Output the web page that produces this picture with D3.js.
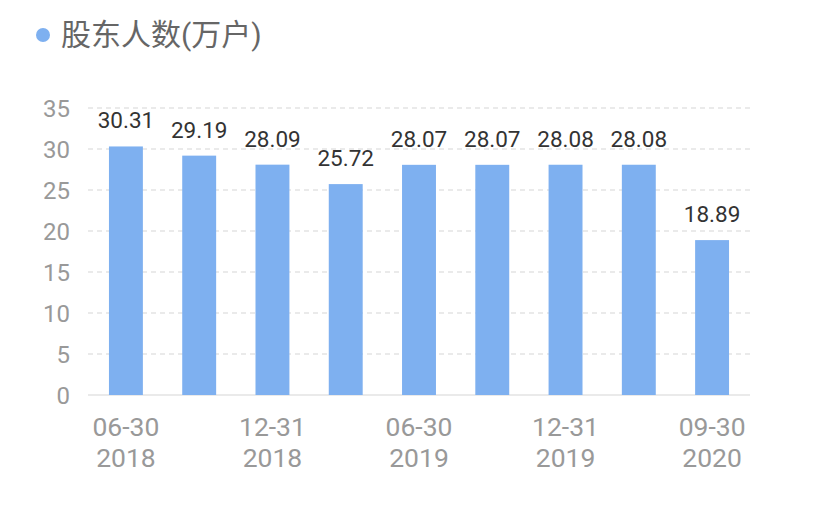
<!DOCTYPE html>
<html>
<head>
<meta charset="utf-8">
<script src="https://cdn.jsdelivr.net/npm/d3@7/dist/d3.min.js"></script>
<style>
  body { margin: 0; background: #fff; }
  svg text { font-family: Roboto, "Noto Sans CJK SC", sans-serif; }
</style>
</head>
<body>
<div id="chart"></div>
<script>
// data
const periods = ['06-30 2018', '09-30 2018', '12-31 2018', '03-31 2019', '06-30 2019',
                 '09-30 2019', '12-31 2019', '03-31 2020', '09-30 2020']
const holders = [30.31, 29.19, 28.09, 25.72, 28.07, 28.07, 28.08, 28.08, 18.89]
const yTicks = [0, 5, 10, 15, 20, 25, 30, 35]
const seriesName = '股东人数(万户)'

const width = 813, height = 511
const margin = {top: 108, right: 63, bottom: 116, left: 88}
const barColor = '#7eb0f0'

const svg = d3.select('#chart').append('svg')
    .attr('width', width)
    .attr('height', height)

// legend
svg.append('circle')
    .attr('cx', 43).attr('cy', 35).attr('r', 7)
    .attr('fill', barColor)
svg.append('text')
    .attr('x', 61).attr('y', 45)
    .attr('font-size', 30)
    .attr('fill', '#666')
    .text(seriesName)

const x = d3.scaleBand()
    .domain(periods)
    .range([margin.left, width - margin.right])
    .paddingInner(0.537)
    .paddingOuter(0.286)

const y = d3.scaleLinear()
    .domain([0, 35])
    .range([height - margin.bottom, margin.top])

// grid
svg.append('g')
    .selectAll('line')
    .data(yTicks.filter(d => d > 0))
    .join('line')
    .attr('x1', margin.left).attr('x2', width - margin.right)
    .attr('y1', d => y(d)).attr('y2', d => y(d))
    .attr('stroke', '#e3e3e3')
    .attr('stroke-width', 1.5)
    .attr('stroke-dasharray', '5,4')

svg.append('line')
    .attr('x1', margin.left).attr('x2', width - margin.right)
    .attr('y1', y(0)).attr('y2', y(0))
    .attr('stroke', '#e3e3e3')
    .attr('stroke-width', 1.5)

// y labels
svg.append('g')
    .selectAll('text')
    .data(yTicks)
    .join('text')
    .attr('x', 70)
    .attr('y', d => y(d) + 8.5)
    .attr('text-anchor', 'end')
    .attr('font-size', 24)
    .attr('fill', '#999')
    .text(d => d)

// bars
svg.append('g')
    .selectAll('rect')
    .data(holders)
    .join('rect')
    .attr('x', (d, i) => x(periods[i]))
    .attr('width', x.bandwidth())
    .attr('y', d => y(d))
    .attr('height', d => y(0) - y(d))
    .attr('fill', barColor)

// value labels
svg.append('g')
    .selectAll('text')
    .data(holders)
    .join('text')
    .attr('x', (d, i) => x(periods[i]) + x.bandwidth() / 2)
    .attr('y', d => y(d) - 18)
    .attr('text-anchor', 'middle')
    .attr('font-size', 22.5)
    .attr('fill', '#333')
    .text(d => d.toFixed(2))

// x labels, every other period
const xl = svg.append('g')
    .selectAll('text')
    .data(periods.filter((d, i) => i % 2 === 0))
    .join('text')
    .attr('text-anchor', 'middle')
    .attr('font-size', 26.5)
    .attr('fill', '#999')
xl.append('tspan')
    .attr('x', d => x(d) + x.bandwidth() / 2)
    .attr('y', 436)
    .text(d => d.split(' ')[0])
xl.append('tspan')
    .attr('x', d => x(d) + x.bandwidth() / 2)
    .attr('y', 467)
    .text(d => d.split(' ')[1])
</script>
</body>
</html>
